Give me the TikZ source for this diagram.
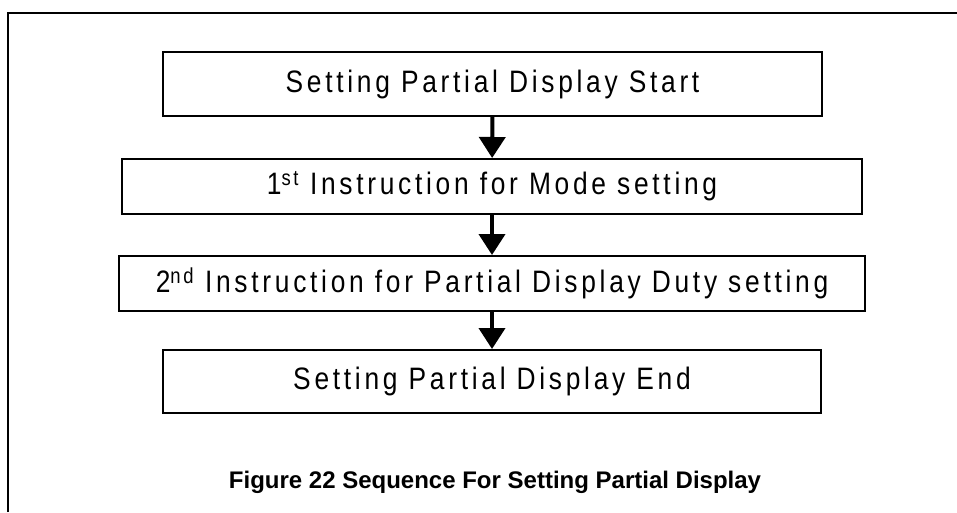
\documentclass[tikz,border=0pt]{standalone}
\usepackage{fontspec}
\setmainfont{Liberation Sans}
\newfontfamily\stepfont[LetterSpace=12,FakeStretch=0.85]{Liberation Sans}
\usetikzlibrary{arrows.meta}

\tikzset{
  stepbox/.style={draw, line width=2pt, inner sep=0pt, font=\stepfont\fontsize{31}{34}\selectfont},
  flow/.style={line width=4pt, -{Triangle[width=26pt,length=21pt]}}
}

\begin{document}
\begin{tikzpicture}[x=1pt, y=-1pt]
        \useasboundingbox (0, 0) rectangle (957, 512);
        \draw[line width=2pt] (8, 512) |- (957, 13);
        \node[stepbox, minimum width=659pt, minimum height=64pt] (start) at (492.5, 84) {Setting Partial Display Start};
        \node[stepbox, minimum width=740pt, minimum height=55pt] (mode) at (492, 186.5) {1\textsuperscript{st} Instruction for Mode setting};
        \node[stepbox, minimum width=746pt, minimum height=55pt] (duty) at (492, 283.5) {2\textsuperscript{nd} Instruction for Partial Display Duty setting};
        \node[stepbox, minimum width=658pt, minimum height=63pt] (end) at (492, 381.5) {Setting Partial Display End};
        \draw[flow] (start) -- (mode);
        \draw[flow] (mode) -- (duty);
        \draw[flow] (duty) -- (end);
        \node[font=\bfseries\fontsize{24}{28}\selectfont] (caption) at (495, 482) {Figure 22 Sequence For Setting Partial Display};
    \end{tikzpicture}
\end{document}
